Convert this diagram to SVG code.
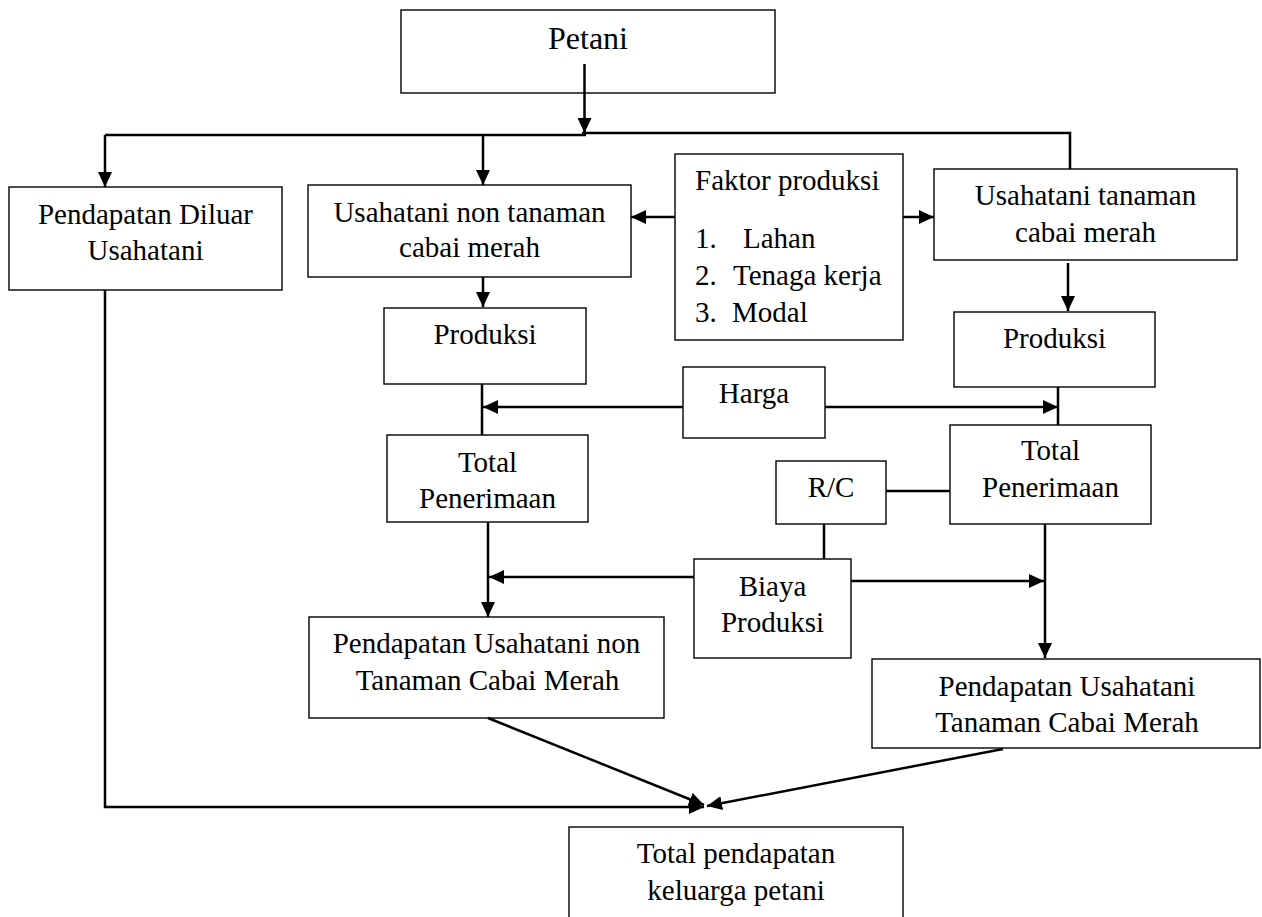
<svg xmlns="http://www.w3.org/2000/svg" width="1262" height="917" viewBox="0 0 1262 917">
<style>
.box{fill:#fff;stroke:#000;stroke-width:1.4}
.t{font-family:"Liberation Serif","Times New Roman",serif;font-size:29px;fill:#000}
.m{text-anchor:middle}
.c{fill:none;stroke:#000;stroke-width:2.5}
</style>
<defs>
<marker id="ah" viewBox="0 0 15 14" refX="15" refY="7" markerWidth="15" markerHeight="14" markerUnits="userSpaceOnUse" orient="auto">
<path d="M0,0 L15,7 L0,14 z" fill="#000"/>
</marker>
</defs>
<rect width="1262" height="917" fill="#fff"/>
<g id="petani"><rect class="box" x="401" y="10" width="374" height="83"/><text class="t m" x="588" y="49" style="font-size:32px">Petani</text></g>
<g id="diluar"><rect class="box" x="9" y="187" width="273" height="103"/><text class="t m" x="145.5" y="224">Pendapatan Diluar</text><text class="t m" x="145.5" y="260">Usahatani</text></g>
<g id="non"><rect class="box" x="308" y="185" width="323" height="92"/><text class="t m" x="469.5" y="222">Usahatani non tanaman</text><text class="t m" x="469.5" y="257">cabai merah</text></g>
<g id="faktor"><rect class="box" x="675" y="154" width="228" height="186"/><text class="t" x="695" y="190">Faktor produksi</text><text class="t" y="248"><tspan x="695">1.</tspan><tspan x="743">Lahan</tspan></text><text class="t" y="285"><tspan x="695">2.</tspan><tspan x="733">Tenaga kerja</tspan></text><text class="t" y="322"><tspan x="695">3.</tspan><tspan x="732">Modal</tspan></text></g>
<g id="tanaman"><rect class="box" x="934" y="169" width="303" height="91"/><text class="t m" x="1085.5" y="205">Usahatani tanaman</text><text class="t m" x="1085.5" y="242">cabai merah</text></g>
<g id="produksi1"><rect class="box" x="384" y="308" width="202" height="76"/><text class="t m" x="485" y="344">Produksi</text></g>
<g id="produksi2"><rect class="box" x="954" y="312" width="201" height="75"/><text class="t m" x="1054.5" y="348">Produksi</text></g>
<g id="harga"><rect class="box" x="683" y="367" width="142" height="71"/><text class="t m" x="754" y="403">Harga</text></g>
<g id="total1"><rect class="box" x="387" y="435" width="201" height="87"/><text class="t m" x="487.5" y="472">Total</text><text class="t m" x="487.5" y="508">Penerimaan</text></g>
<g id="total2"><rect class="box" x="950" y="425" width="201" height="99"/><text class="t m" x="1050.5" y="460">Total</text><text class="t m" x="1050.5" y="497">Penerimaan</text></g>
<g id="rc"><rect class="box" x="776" y="461" width="110" height="63"/><text class="t m" x="831" y="497">R/C</text></g>
<g id="biaya"><rect class="box" x="694" y="559" width="157" height="99"/><text class="t m" x="772.5" y="596">Biaya</text><text class="t m" x="772.5" y="632">Produksi</text></g>
<g id="pend1"><rect class="box" x="309" y="617" width="355" height="101"/><text class="t m" x="486.5" y="653">Pendapatan Usahatani non</text><text class="t m" x="487.5" y="690">Tanaman Cabai Merah</text></g>
<g id="pend2"><rect class="box" x="872" y="659" width="388" height="89"/><text class="t m" x="1067" y="696">Pendapatan Usahatani</text><text class="t m" x="1067" y="732">Tanaman Cabai Merah</text></g>
<g id="totalpend"><rect class="box" x="569" y="827" width="334" height="110"/><text class="t m" x="736" y="863">Total pendapatan</text><text class="t m" x="736" y="900">keluarga petani</text></g>
<g id="connectors">
<path class="c" d="M584.5,64 V133" marker-end="url(#ah)"/>
<path class="c" d="M105,135 H586"/>
<path class="c" d="M582,133 H1070 V169"/>
<path class="c" d="M105,135 V187" marker-end="url(#ah)"/>
<path class="c" d="M483,135 V185" marker-end="url(#ah)"/>
<path class="c" d="M483,277 V307" marker-end="url(#ah)"/>
<path class="c" d="M675,217 H631" marker-end="url(#ah)"/>
<path class="c" d="M903,217 H934" marker-end="url(#ah)"/>
<path class="c" d="M1068,263 V311" marker-end="url(#ah)"/>
<path class="c" d="M482,384 V435"/>
<path class="c" d="M683,407 H483" marker-end="url(#ah)"/>
<path class="c" d="M1058,387 V425"/>
<path class="c" d="M825,407 H1058" marker-end="url(#ah)"/>
<path class="c" d="M886,491 H950"/>
<path class="c" d="M824,524 V559"/>
<path class="c" d="M488,522 V617" marker-end="url(#ah)"/>
<path class="c" d="M694,577 H489" marker-end="url(#ah)"/>
<path class="c" d="M851,581 H1044" marker-end="url(#ah)"/>
<path class="c" d="M1045,524 V658" marker-end="url(#ah)"/>
<path class="c" d="M105,290 V807 H704" marker-end="url(#ah)"/>
<path class="c" d="M488,718 L704,805" marker-end="url(#ah)"/>
<path class="c" d="M1003,749 L707,806" marker-end="url(#ah)"/>
</g>
</svg>
